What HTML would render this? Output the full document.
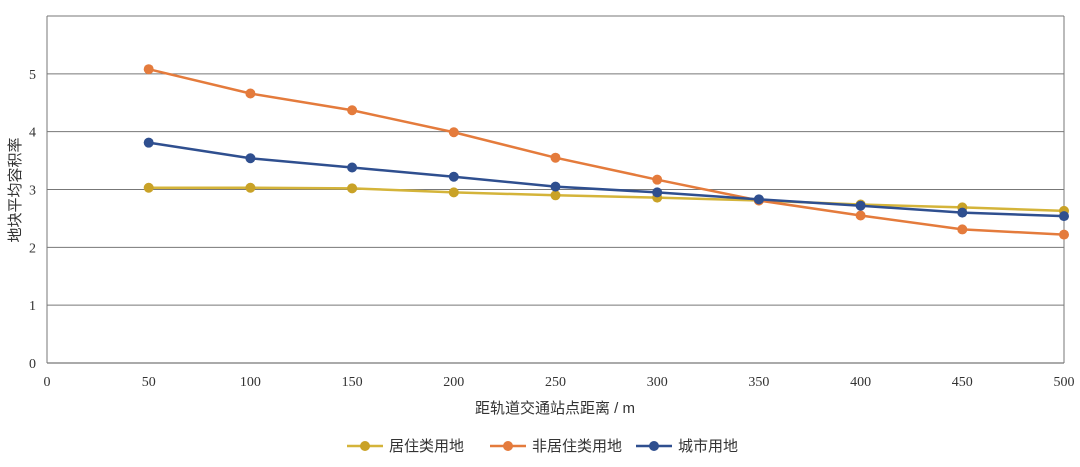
<!DOCTYPE html>
<html><head><meta charset="utf-8"><style>
body{margin:0;background:#fff;width:1080px;height:462px;overflow:hidden}
svg text{font-family:"Liberation Serif","Noto Serif CJK SC",serif;fill:#333}
.cjk{font-family:"Liberation Sans","Noto Sans CJK SC",sans-serif}
</style></head><body>
<svg id="chart" width="1080" height="462" xmlns="http://www.w3.org/2000/svg"></svg>
<script>
const categories=[50,100,150,200,250,300,350,400,450,500];
const residential=[3.03,3.03,3.02,2.95,2.90,2.86,2.81,2.74,2.69,2.63];
const nonResidential=[5.08,4.66,4.37,3.99,3.55,3.17,2.81,2.55,2.31,2.22];
const city=[3.81,3.54,3.38,3.22,3.05,2.95,2.83,2.72,2.60,2.54];
const xTicks=[0,50,100,150,200,250,300,350,400,450,500];
const yTicks=[0,1,2,3,4,5];
const seriesNames=["居住类用地","非居住类用地","城市用地"];
const NS="http://www.w3.org/2000/svg";
const svg=document.getElementById('chart');
const L=47,R=1064,T=16,B=363,YMAX=6;
const xs=v=>L+(R-L)*v/500, ys=v=>B-(B-T)*v/YMAX;
function mk(t,a,p){const e=document.createElementNS(NS,t);for(const k in a)e.setAttribute(k,a[k]);(p||svg).appendChild(e);return e;}
const grid=mk('g',{});


yTicks.concat([6]).forEach(v=>{const l=mk('line',{x1:L,x2:R,y1:ys(v),y2:ys(v),stroke:v===0?'#555':'#777','stroke-width':1},grid);});
const fr=mk('line',{x1:L,x2:L,y1:T,y2:B,stroke:'#777'},grid);
const fr2=mk('line',{x1:R,x2:R,y1:T,y2:B,stroke:'#777'},grid);
yTicks.forEach(v=>{const t=mk('text',{x:36,y:ys(v)+5,'font-size':14,'text-anchor':'end'});t.textContent=v;

});
xTicks.forEach(v=>{const t=mk('text',{x:xs(v),y:386,'font-size':14,'text-anchor':'middle'});t.textContent=v;

});
const xt=mk('text',{x:555,y:413,'font-size':15,'text-anchor':'middle',class:'cjk'});xt.textContent='距轨道交通站点距离 / m';


const yt=mk('text',{x:0,y:0,'font-size':15,'text-anchor':'middle',class:'cjk',transform:'translate(20,190) rotate(-90)'});yt.textContent='地块平均容积率';


const colors=['#c9a227','#e47b3c','#2f4f8f'];
const lineColors=['#d4b43a','#e47b3c','#2f4f8f'];
[residential,nonResidential,city].forEach((d,i)=>{
 const g=mk('g',{});
 
 
 mk('polyline',{points:d.map((v,j)=>xs(categories[j])+','+ys(v)).join(' '),fill:'none',stroke:lineColors[i],'stroke-width':2.5},g);
 d.forEach((v,j)=>{const c=mk('circle',{cx:xs(categories[j]),cy:ys(v),r:5,fill:colors[i]},g);
 
 });
});
const lx=[347,490,636];
seriesNames.forEach((n,i)=>{
 const g=mk('g',{});
 
 
 mk('line',{x1:lx[i],x2:lx[i]+36,y1:446,y2:446,stroke:lineColors[i],'stroke-width':2.5},g);
 mk('circle',{cx:lx[i]+18,cy:446,r:5,fill:colors[i]},g);
 const t=mk('text',{x:lx[i]+42,y:451,'font-size':15,class:'cjk'},g);t.textContent=n;
});
</script>
</body></html>
